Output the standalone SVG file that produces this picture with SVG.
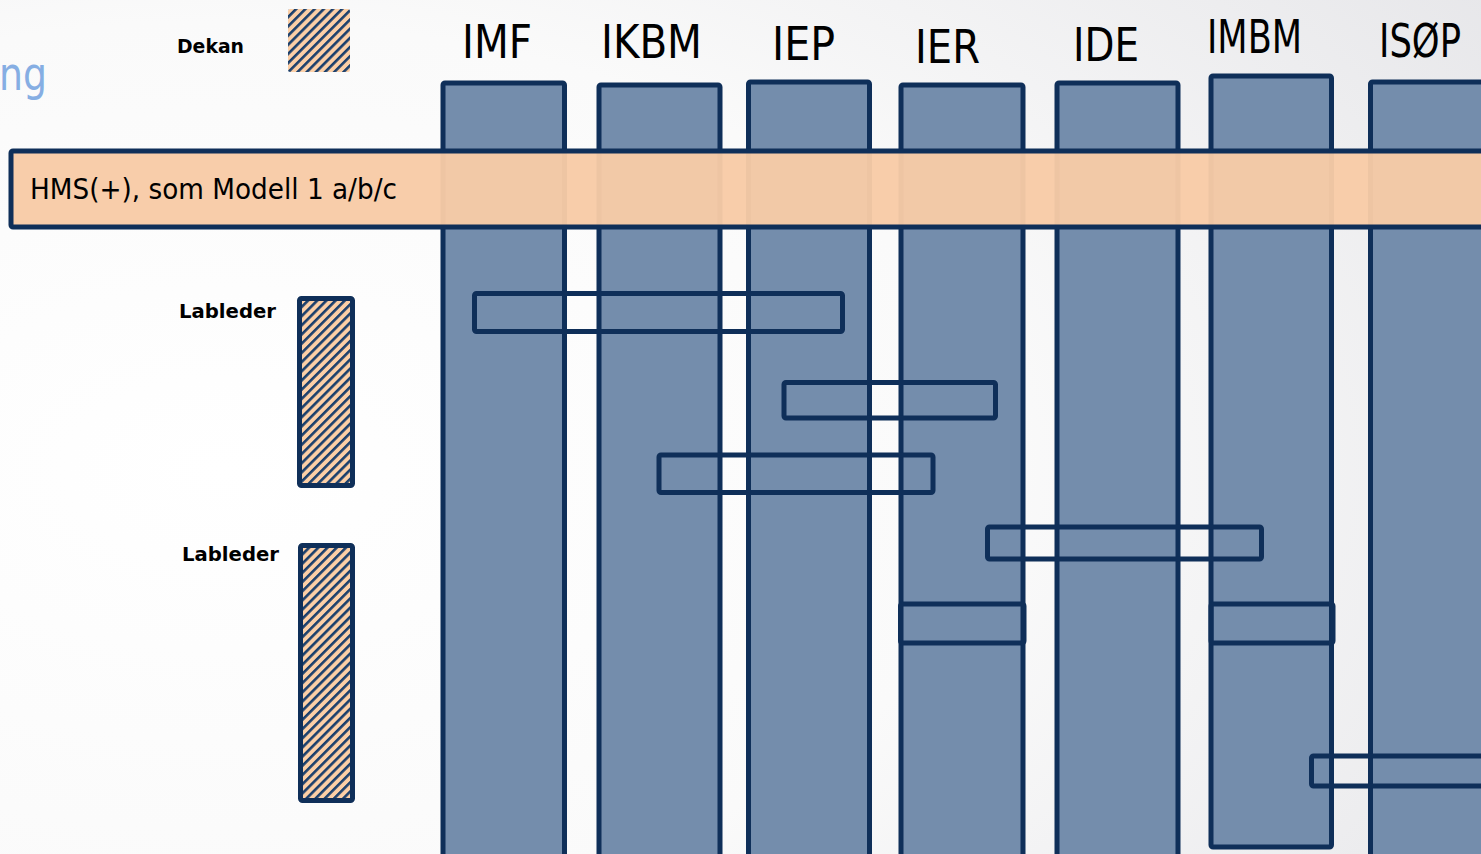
<svg xmlns="http://www.w3.org/2000/svg" width="1481" height="854" viewBox="0 0 1481 854">
<defs>
<radialGradient id="bg" cx="0.15" cy="0.55" r="1.05">
<stop offset="0" stop-color="#ffffff"/>
<stop offset="0.5" stop-color="#fafafa"/>
<stop offset="1" stop-color="#e6e6e9"/>
</radialGradient>
<pattern id="hatch" width="6.5" height="6.5" patternUnits="userSpaceOnUse" patternTransform="rotate(45)">
<rect width="6.5" height="6.5" fill="#FCCFA6"/>
<rect width="2.6" height="6.5" fill="#1A3F6C"/>
</pattern>
<style>
.col{fill:#748DAC;stroke:#0F2F59;stroke-width:5;stroke-linejoin:round}
.box{fill:none;stroke:#0F2F59;stroke-width:5;stroke-linejoin:round}
.hdr{font-family:'DejaVu Sans Condensed','DejaVu Sans',sans-serif;font-size:47px;fill:#000}
.lbl{font-family:'DejaVu Sans','Liberation Sans',sans-serif;font-weight:bold;font-size:19.5px;fill:#000}
.hz{stroke:#0F2F59;stroke-width:5;stroke-linejoin:round}
</style>
</defs>
<rect width="1481" height="854" fill="url(#bg)"/>
<text x="-1" y="90" font-family="'DejaVu Sans Condensed','DejaVu Sans',sans-serif" font-size="47" fill="#86AEE3" textLength="48" lengthAdjust="spacingAndGlyphs">ng</text>

<g id="dekan">
<text class="lbl" x="177" y="53" textLength="67" lengthAdjust="spacingAndGlyphs">Dekan</text>
<rect x="288" y="9" width="62" height="63" fill="url(#hatch)" rx="2"/>
</g>

<g id="lableder1">
<text class="lbl" x="179" y="318" textLength="97" lengthAdjust="spacingAndGlyphs">Lableder</text>
<rect class="hz" x="299.5" y="298.5" width="53" height="187" rx="2" fill="url(#hatch)"/>
</g>
<g id="lableder2">
<text class="lbl" x="182" y="561" textLength="97" lengthAdjust="spacingAndGlyphs">Lableder</text>
<rect class="hz" x="300.5" y="545.5" width="52" height="255" rx="2" fill="url(#hatch)"/>
</g>

<g id="col-imf">
<rect class="col" x="443" y="83" width="121.5" height="790" rx="2"/>
<text class="hdr" x="462" y="58" textLength="70" lengthAdjust="spacingAndGlyphs">IMF</text>
</g>
<g id="col-ikbm">
<rect class="col" x="599" y="85" width="121" height="790" rx="2"/>
<text class="hdr" x="601" y="58" textLength="101" lengthAdjust="spacingAndGlyphs">IKBM</text>
</g>
<g id="col-iep">
<rect class="col" x="748.5" y="82" width="121" height="790" rx="2"/>
<text class="hdr" x="772" y="60" textLength="63" lengthAdjust="spacingAndGlyphs">IEP</text>
</g>
<g id="col-ier">
<rect class="col" x="901" y="85" width="122" height="790" rx="2"/>
<text class="hdr" x="915" y="63" textLength="65" lengthAdjust="spacingAndGlyphs">IER</text>
</g>
<g id="col-ide">
<rect class="col" x="1057" y="83" width="121" height="790" rx="2"/>
<text class="hdr" x="1073" y="61" textLength="66" lengthAdjust="spacingAndGlyphs">IDE</text>
</g>
<g id="col-imbm">
<rect class="col" x="1211" y="76" width="120.5" height="771" rx="2"/>
<text class="hdr" x="1207" y="53" font-size="45" textLength="95" lengthAdjust="spacingAndGlyphs">IMBM</text>
</g>
<g id="col-isop">
<rect class="col" x="1370.5" y="82" width="140" height="790" rx="2"/>
<text class="hdr" x="1379" y="57" textLength="82" lengthAdjust="spacingAndGlyphs">ISØP</text>
</g>

<g id="hms">
<rect x="11" y="151" width="1500" height="76" rx="2" fill="#F8CBA7" fill-opacity="0.96" stroke="#0F2F59" stroke-width="5"/>
<text x="30" y="199" font-family="'DejaVu Sans Condensed','DejaVu Sans',sans-serif" font-size="29" fill="#000" textLength="367" lengthAdjust="spacingAndGlyphs">HMS(+), som Modell 1 a/b/c</text>
</g>

<g id="connectors">
<rect class="box" x="474.5" y="293.5" width="368" height="38" rx="2"/>
<rect class="box" x="784" y="382.5" width="211.5" height="35.5" rx="2"/>
<rect class="box" x="659" y="455" width="274" height="37.5" rx="2"/>
<rect class="box" x="987.5" y="527" width="274" height="32" rx="2"/>
<rect class="box" x="900.5" y="604" width="123.5" height="39" rx="2"/>
<rect class="box" x="1211" y="604" width="122" height="39" rx="2"/>
<rect class="box" x="1311.5" y="756" width="200" height="30" rx="2"/>
</g>
</svg>
